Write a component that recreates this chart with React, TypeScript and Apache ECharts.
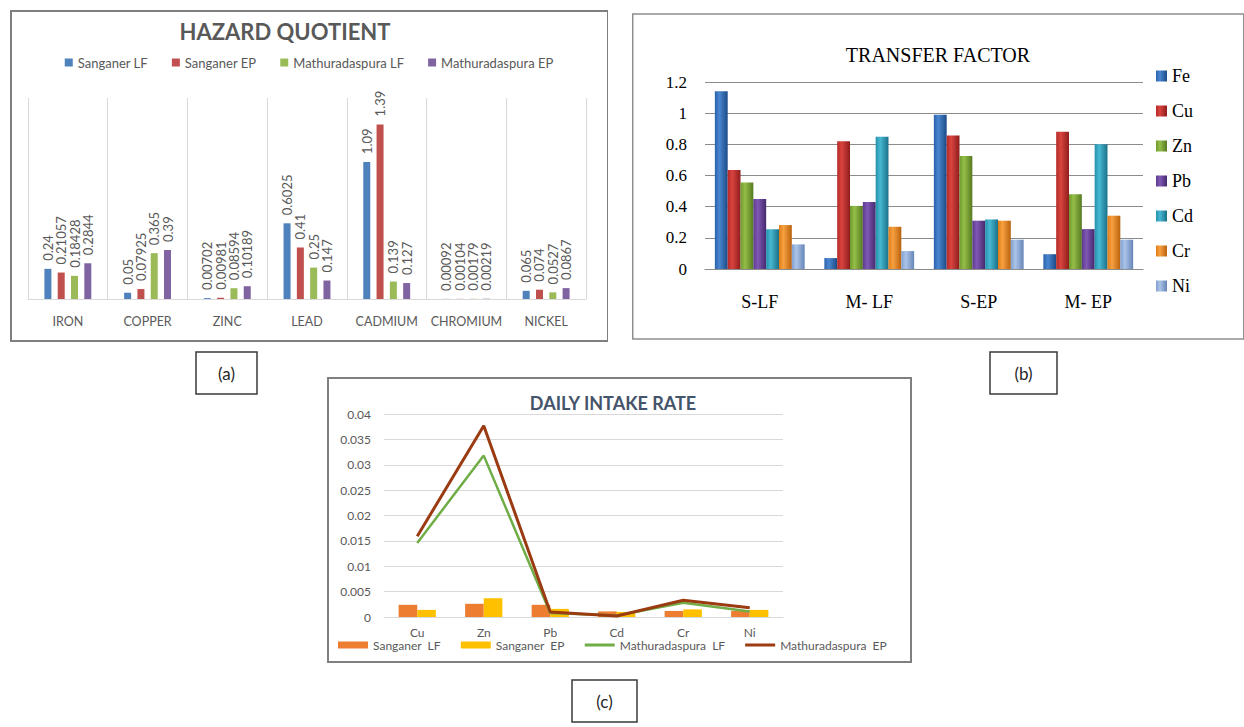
import React, { useEffect, useRef } from "react";
import * as echarts from "echarts";

// ---------- (a) Hazard quotient ----------
const hqCategories = ["IRON", "COPPER", "ZINC", "LEAD", "CADMIUM", "CHROMIUM", "NICKEL"];
const hqSeriesNames = ["Sanganer LF", "Sanganer EP", "Mathuradaspura LF", "Mathuradaspura EP"];
const hqSanganerLF = [0.24, 0.05, 0.00702, 0.6025, 1.09, 0.00092, 0.065];
const hqSanganerEP = [0.21057, 0.07925, 0.00981, 0.41, 1.39, 0.00104, 0.074];
const hqMathuraLF = [0.18428, 0.365, 0.08594, 0.25, 0.139, 0.00179, 0.0527];
const hqMathuraEP = [0.2844, 0.39, 0.10189, 0.147, 0.127, 0.00219, 0.0867];

// ---------- (b) Transfer factor ----------
const tfCategories = ["S-LF", "M- LF", "S-EP", "M- EP"];
const tfMetals = ["Fe", "Cu", "Zn", "Pb", "Cd", "Cr", "Ni"];
const tfFe = [1.14, 0.07, 0.99, 0.095];
const tfCu = [0.635, 0.82, 0.857, 0.88];
const tfZn = [0.555, 0.405, 0.725, 0.48];
const tfPb = [0.45, 0.43, 0.31, 0.256];
const tfCd = [0.255, 0.848, 0.318, 0.8];
const tfCr = [0.282, 0.271, 0.31, 0.342];
const tfNi = [0.158, 0.115, 0.188, 0.188];

// ---------- (c) Daily intake rate ----------
const dirCategories = ["Cu", "Zn", "Pb", "Cd", "Cr", "Ni"];
const dirSanganerLF = [0.0024, 0.0026, 0.0024, 0.0011, 0.0012, 0.0012];
const dirSanganerEP = [0.0014, 0.0037, 0.0016, 0.001, 0.0015, 0.0014];
const dirMathuraLF = [0.0146, 0.0318, 0.0008, 0.0003, 0.0028, 0.0011];
const dirMathuraEP = [0.0159, 0.0377, 0.001, 0.0002, 0.0033, 0.0018];

const SANS = "Lato, 'Liberation Sans', sans-serif";
const SERIF = "'Liberation Serif', 'DejaVu Serif', serif";

function labelBox(x: number, y: number, w: number, h: number, text: string) {
  return [
    { type: "rect", shape: { x, y, width: w, height: h }, style: { fill: "#fff", stroke: "#3a3a3a", lineWidth: 1.5 } },
    {
      type: "text",
      x: x + w / 2,
      y: y + h / 2,
      style: { text, fontFamily: SANS, fontSize: 17, fill: "#262626", align: "center", verticalAlign: "middle" },
    },
  ];
}

// ---- option A ----
const hqColors = ["#4F81BD", "#C0504D", "#9BBB59", "#8064A2"];
const hqValues = [hqSanganerLF, hqSanganerEP, hqMathuraLF, hqMathuraEP];
const optionA = {
  animation: false,
  title: {
    text: "HAZARD QUOTIENT",
    left: 275,
    top: 10,
    textAlign: "center",
    padding: 0,
    textStyle: { fontFamily: SANS, fontSize: 22, fontWeight: "bold", color: "#595959" },
  },
  legend: {
    top: 46,
    left: "center",
    padding: 0,
    icon: "rect",
    itemWidth: 8,
    itemHeight: 8,
    itemGap: 24,
    textStyle: { fontFamily: SANS, fontSize: 13, color: "#595959" },
    data: hqSeriesNames,
  },
  grid: { left: 18, right: 22, top: 88, bottom: 101 },
  xAxis: {
    type: "category",
    data: hqCategories,
    axisLine: { lineStyle: { color: "#D9D9D9" } },
    axisTick: { show: false },
    splitLine: { show: true, interval: 0, lineStyle: { color: "#D9D9D9" } },
    axisLabel: { interval: 0, hideOverlap: false, fontFamily: SANS, fontSize: 12.5, color: "#595959", margin: 16 },
  },
  yAxis: { type: "value", min: 0, max: 1.6, show: false },
  series: hqSeriesNames.map((name, i) => ({
    name,
    type: "bar",
    data: hqValues[i],
    barWidth: 7,
    barGap: "90%",
    itemStyle: { color: hqColors[i] },
    label: {
      show: true,
      position: "top",
      rotate: 90,
      align: "left",
      verticalAlign: "middle",
      distance: 8,
      fontFamily: SANS,
      fontSize: 13,
      color: "#595959",
    },
  })),
  graphic: [
    { type: "rect", shape: { x: 1, y: 1, width: 597, height: 330 }, style: { fill: "none", stroke: "#7f7f7f", lineWidth: 2 } },
    ...labelBox(186, 342, 61, 42, "(a)"),
  ],
};

// ---- option B ----
const tfValues = [tfFe, tfCu, tfZn, tfPb, tfCd, tfCr, tfNi];
const tfShades: [string, string, string][] = [
  ["#2A62AC", "#4A86CF", "#1B4A86"],
  ["#B42A28", "#D9443F", "#8E1C1B"],
  ["#6E9A2E", "#95BE48", "#557A22"],
  ["#5B3A8A", "#8058B5", "#45296C"],
  ["#2490AC", "#48B8D2", "#1A7189"],
  ["#E07C17", "#F7A040", "#B9620D"],
  ["#7F9FD0", "#ABC4E8", "#6685B8"],
];
function grad(c: [string, string, string]) {
  return new echarts.graphic.LinearGradient(0, 0, 1, 0, [
    { offset: 0, color: c[0] },
    { offset: 0.35, color: c[1] },
    { offset: 1, color: c[2] },
  ]);
}
const optionB = {
  animation: false,
  title: {
    text: "TRANSFER FACTOR",
    left: 306,
    top: 33,
    textAlign: "center",
    padding: 0,
    textStyle: { fontFamily: SERIF, fontSize: 20, fontWeight: "normal", color: "#000" },
  },
  legend: {
    orient: "vertical",
    left: 524,
    top: 55,
    padding: 0,
    icon: "rect",
    itemWidth: 11,
    itemHeight: 11,
    itemGap: 17,
    textStyle: { fontFamily: SERIF, fontSize: 18, lineHeight: 18, color: "#000" },
    data: tfMetals,
  },
  grid: { left: 73, right: 101, top: 70, bottom: 133 },
  xAxis: {
    type: "category",
    data: tfCategories,
    axisLine: { lineStyle: { color: "#8C8C8C" } },
    axisTick: { show: false },
    axisLabel: { fontFamily: SERIF, fontSize: 18, color: "#000", margin: 24 },
  },
  yAxis: {
    type: "value",
    min: 0,
    max: 1.2,
    interval: 0.2,
    axisLine: { show: false },
    axisTick: { show: false },
    splitLine: { lineStyle: { color: "#8C8C8C" } },
    axisLabel: { fontFamily: SERIF, fontSize: 17, color: "#000", margin: 18 },
  },
  series: tfMetals.map((name, i) => ({
    name,
    type: "bar",
    data: tfValues[i],
    barGap: "0%",
    barCategoryGap: "18%",
    itemStyle: { color: grad(tfShades[i]) },
  })),
  graphic: [
    { type: "rect", shape: { x: 0.75, y: 2, width: 611, height: 325 }, style: { fill: "none", stroke: "#8f8f8f", lineWidth: 1.5 } },
    ...labelBox(358, 340, 67, 42, "(b)"),
  ],
};

// ---- option C ----
const LINE_ICON = "path://M0,0H30V3H0Z";
const optionC = {
  animation: false,
  title: {
    text: "DAILY INTAKE RATE",
    left: 286,
    top: 17,
    textAlign: "center",
    padding: 0,
    textStyle: { fontFamily: SANS, fontSize: 18, fontWeight: "bold", color: "#44546A" },
  },
  legend: {
    left: 11,
    top: 262,
    padding: 0,
    itemWidth: 30,
    itemHeight: 7,
    itemGap: 20,
    textStyle: { fontFamily: SANS, fontSize: 12, color: "#595959" },
    data: [
      { name: "Sanganer  LF", icon: "rect" },
      { name: "Sanganer  EP", icon: "rect" },
      { name: "Mathuradaspura  LF", icon: LINE_ICON },
      { name: "Mathuradaspura  EP", icon: LINE_ICON },
    ],
  },
  grid: { left: 57, right: 130, top: 37, bottom: 110 },
  xAxis: {
    type: "category",
    data: dirCategories,
    axisLine: { lineStyle: { color: "#D9D9D9" } },
    axisTick: { show: false },
    axisLabel: { fontFamily: SANS, fontSize: 12, color: "#595959", margin: 9 },
  },
  yAxis: {
    type: "value",
    min: 0,
    max: 0.04,
    interval: 0.005,
    axisLine: { show: false },
    axisTick: { show: false },
    splitLine: { lineStyle: { color: "#D9D9D9" } },
    axisLabel: { fontFamily: SANS, fontSize: 12, color: "#595959", margin: 13 },
  },
  series: [
    { name: "Sanganer  LF", type: "bar", data: dirSanganerLF, barGap: "0%", barCategoryGap: "44%", itemStyle: { color: "#ED7D31" } },
    { name: "Sanganer  EP", type: "bar", data: dirSanganerEP, barGap: "0%", barCategoryGap: "44%", itemStyle: { color: "#FFC000" } },
    {
      name: "Mathuradaspura  LF",
      type: "line",
      data: dirMathuraLF,
      symbol: "none",
      lineStyle: { color: "#70AD47", width: 2.5 },
      itemStyle: { color: "#70AD47" },
    },
    {
      name: "Mathuradaspura  EP",
      type: "line",
      data: dirMathuraEP,
      symbol: "none",
      lineStyle: { color: "#9A3B12", width: 3 },
      itemStyle: { color: "#9A3B12" },
    },
  ],
  graphic: [
    { type: "rect", shape: { x: 1, y: 1, width: 583, height: 284 }, style: { fill: "none", stroke: "#7f7f7f", lineWidth: 2 } },
    ...labelBox(245, 303, 65, 42, "(c)"),
  ],
};

function Chart({ option, style }: { option: any; style: React.CSSProperties }) {
  const ref = useRef<HTMLDivElement>(null);
  useEffect(() => {
    const chart = echarts.init(ref.current!, null, { renderer: "svg" });
    chart.setOption(option);
    return () => chart.dispose();
  }, [option]);
  return <div ref={ref} style={{ position: "absolute", ...style }} />;
}

export default function App() {
  return (
    <div
      style={{
        position: "absolute",
        left: 0,
        top: 0,
        width: 1244,
        height: 727,
        background: "#fff",
        overflow: "hidden",
      }}
    >
      <Chart option={optionA} style={{ left: 10, top: 10, width: 598, height: 390 }} />
      <Chart option={optionB} style={{ left: 632, top: 12, width: 612, height: 390 }} />
      <Chart option={optionC} style={{ left: 327, top: 377, width: 586, height: 350 }} />
    </div>
  );
}
